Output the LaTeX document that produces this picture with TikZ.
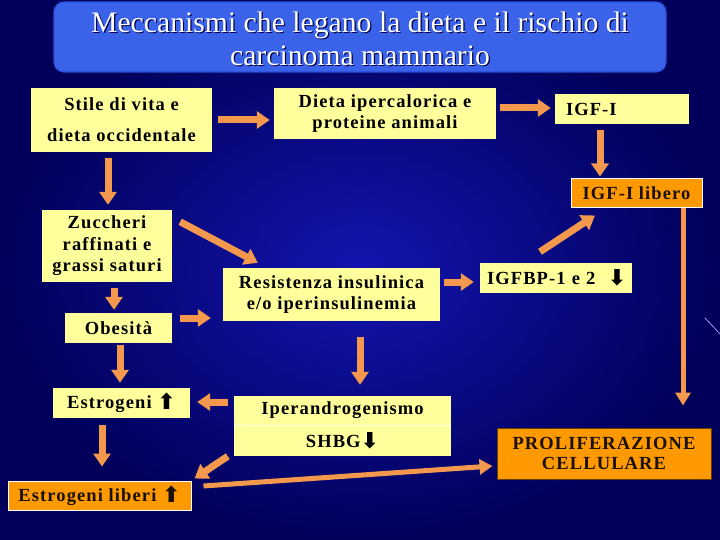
\documentclass[tikz,border=0pt]{standalone}
\usepackage{fontspec}
\setmainfont{Liberation Serif}
\newfontfamily\boxfont{Liberation Serif}[LetterSpace=6]
\newfontfamily\symfont{DejaVu Sans}
\usetikzlibrary{arrows.meta}
\definecolor{bgdark}{HTML}{00005A}
\definecolor{bgmid}{HTML}{1414B0}
\definecolor{boxyellow}{HTML}{FFFF9C}
\definecolor{boxorange}{HTML}{FF9900}
\definecolor{arroworange}{HTML}{F3984D}
\definecolor{titlefill}{HTML}{3A63EA}
\definecolor{titleborder}{HTML}{2B4FD8}
\definecolor{darktext}{HTML}{1A1000}
\tikzset{
  ybox/.style={fill=boxyellow, inner sep=0pt, align=center, font=\boxfont\bfseries\fontsize{18.5}{20.5}\selectfont, text=black},
  obox/.style={fill=boxorange, draw=white, line width=1pt, inner sep=0pt, align=center, font=\boxfont\bfseries\fontsize{18.5}{20.5}\selectfont, text=darktext},
  arr/.style={draw=arroworange, line width=7pt, -{Triangle[width=17pt,length=13pt]}},
  thinarr/.style={draw=arroworange, line width=5pt, -{Triangle[width=15pt,length=13pt]}},
}
\newcommand{\upar}{{\symfont\fontsize{22}{22}\selectfont\raisebox{-1pt}{⬆}}}
\newcommand{\dnar}{{\symfont\fontsize{22}{22}\selectfont\raisebox{-1pt}{⬇}}}
\begin{document}
\begin{tikzpicture}[x=1pt,y=-1pt]
\useasboundingbox (0,0) rectangle (720,540);
% background
\shade[inner color=bgmid, outer color=bgdark] (0,0) rectangle (720,540);
\draw[white!60!blue, line width=0.8pt] (705,318) -- (720,334);
% title
\node[fill=titlefill, draw=titleborder, line width=1.2pt, rounded corners=10pt,
      minimum width=612pt, minimum height=70pt, inner sep=0pt] (title) at (360,37) {};
\node[text=black!70!blue, align=center, font=\fontsize{29.7}{33}\selectfont] at (361.2,39.7)
  {Meccanismi che legano la dieta e il rischio di\\carcinoma mammario};
\node[text=white, align=center, font=\fontsize{29.7}{33}\selectfont] (titletext) at (360,38.5)
  {Meccanismi che legano la dieta e il rischio di\\carcinoma mammario};
% boxes
\node[ybox, minimum width=181pt, minimum height=64pt, font=\boxfont\bfseries\fontsize{18.5}{31}\selectfont] (stile) at (121.5,120) {Stile di vita e\\dieta occidentale};
\node[ybox, minimum width=222pt, minimum height=51pt] (dieta) at (385,113.5) {Dieta ipercalorica e\\proteine animali};
\node[ybox, minimum width=134pt, minimum height=30pt, text width=112pt, inner xsep=11pt, align=left] (igf) at (622,109) {IGF-I};
\node[obox, minimum width=131pt, minimum height=29pt] (igfl) at (636.5,193.5) {IGF-I libero};
\node[ybox, minimum width=130pt, minimum height=72pt, font=\boxfont\bfseries\fontsize{18.5}{21.5}\selectfont] (zuc) at (107,246) {Zuccheri\\raffinati e\\grassi saturi};
\node[ybox, minimum width=107pt, minimum height=30pt] (obe) at (118.5,328) {Obesità};
\node[ybox, minimum width=217pt, minimum height=53pt] (res) at (331.5,294.5) {Resistenza insulinica\\e/o iperinsulinemia};
\node[ybox, minimum width=152pt, minimum height=30pt, text width=144pt, inner xsep=4pt, align=left] (igfbp) at (556,278) {\,IGFBP-1 e 2 \ \dnar};
\node[ybox, minimum width=137pt, minimum height=30pt] (estr) at (121.5,403) {Estrogeni \upar};
\node[ybox, minimum width=217pt, minimum height=29pt] (iper) at (342.5,410.5) {Iperandrogenismo};
\node[ybox, minimum width=217pt, minimum height=30pt] (shbg) at (342.5,441) {SHBG\dnar};
\draw[white!70!boxyellow, line width=1pt] (iper.south west) -- (iper.south east);
\node[obox, minimum width=183pt, minimum height=29pt] (estl) at (99.5,495.5) {Estrogeni liberi \upar};
\node[obox, draw=black!60!boxorange, minimum width=214pt, minimum height=51pt] (prol) at (604,453.5) {PROLIFERAZIONE\\CELLULARE};
% connectors
\draw[arr, shorten <=6pt, shorten >=4pt] (stile.east) -- (stile.east -| dieta.west);
\draw[arr, shorten <=4pt, shorten >=4pt] ([yshift=1pt]igf.west -| dieta.east) -- ([yshift=1pt]igf.west);
\draw[arr, shorten <=6pt, shorten >=2pt] ([xshift=-22pt]igf.south) -- ([xshift=-22pt]igf.south |- igfl.north);
\draw[arr, shorten <=6pt, shorten >=5pt] ([xshift=1pt]stile.south -| zuc.north) -- ([xshift=1pt]zuc.north);
\draw[arr] ([shift={(8,12)}]zuc.north east) -- ([shift={(35,-5)}]res.north west);
\draw[arr, shorten <=6pt, shorten >=3pt] ([xshift=7pt]zuc.south) -- ([xshift=7pt]zuc.south |- obe.north);
\draw[arr, shorten <=8pt, shorten >=12pt] ([yshift=10pt]obe.east) -- ([yshift=10pt]obe.east -| res.west);
\draw[arr, shorten <=4pt, shorten >=6pt] ([yshift=-4pt]igfbp.west -| res.east) -- ([yshift=-4pt]igfbp.west);
\draw[arr] ([shift={(-16,-11)}]igfbp.north) -- ([shift={(-41.5,7)}]igfl.south);
\draw[arr, shorten <=16pt, shorten >=11pt] ([xshift=28.5pt]res.south) -- ([xshift=28.5pt]res.south |- iper.north);
\draw[arr, shorten <=2pt, shorten >=5pt] ([xshift=1.5pt]obe.south) -- ([xshift=1.5pt]obe.south |- estr.north);
\draw[arr, shorten <=6pt, shorten >=7pt] ([yshift=1pt]estr.east -| iper.west) -- ([yshift=1pt]estr.east);
\draw[arr, shorten <=7pt, shorten >=14pt] ([xshift=-19.5pt]estr.south) -- ([xshift=-19.5pt]estr.south |- estl.north);
\draw[arr] ([shift={(-6,0)}]shbg.south west) -- ([shift={(3,-2)}]estl.north east);
\draw[thinarr] ([shift={(12,-9.5)}]estl.east) -- ([shift={(-4,12.5)}]prol.west);
\draw[thinarr, shorten >=22pt] ([xshift=46.5pt]igfl.south) -- ([xshift=46.5pt]igfl.south |- prol.north);
\end{tikzpicture}
\end{document}
